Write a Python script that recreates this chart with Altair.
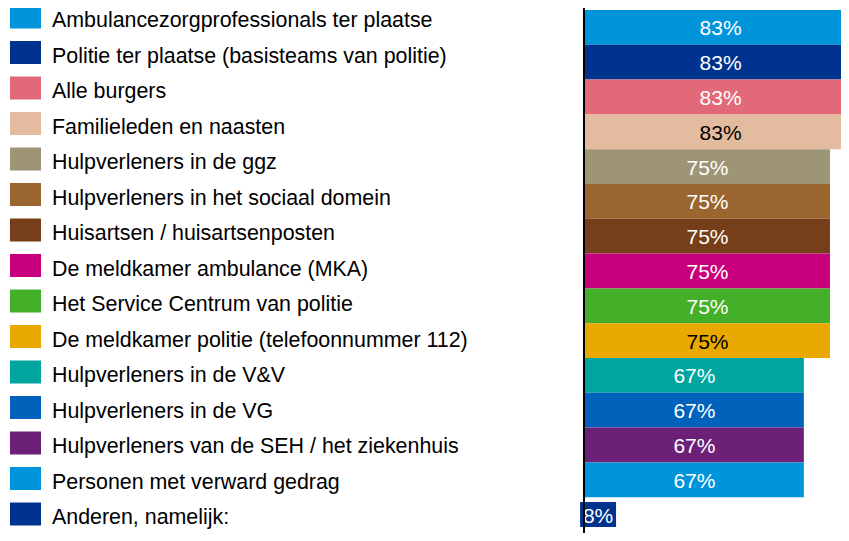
import altair as alt
import pandas as pd

categories = [
    "Ambulancezorgprofessionals ter plaatse",
    "Politie ter plaatse (basisteams van politie)",
    "Alle burgers",
    "Familieleden en naasten",
    "Hulpverleners in de ggz",
    "Hulpverleners in het sociaal domein",
    "Huisartsen / huisartsenposten",
    "De meldkamer ambulance (MKA)",
    "Het Service Centrum van politie",
    "De meldkamer politie (telefoonnummer 112)",
    "Hulpverleners in de V&V",
    "Hulpverleners in de VG",
    "Hulpverleners van de SEH / het ziekenhuis",
    "Personen met verward gedrag",
    "Anderen, namelijk:",
]
values = [83, 83, 83, 83, 75, 75, 75, 75, 75, 75, 67, 67, 67, 67, 8]
colors = [
    "#0095DA", "#00338D", "#E26978", "#E3BC9F", "#9E9476",
    "#9B6530", "#763F1A", "#C8007D", "#44B02A", "#EAA900",
    "#00A59F", "#0062BB", "#6C2077", "#0095DA", "#00338D",
]
label_colors = [
    "#FFFFFF", "#FFFFFF", "#FFFFFF", "#000000", "#FFFFFF",
    "#FFFFFF", "#FFFFFF", "#FFFFFF", "#FFFFFF", "#000000",
    "#FFFFFF", "#FFFFFF", "#FFFFFF", "#FFFFFF", "#FFFFFF",
]

df = pd.DataFrame({
    "cat": categories,
    "value": values,
    "lab": [f"{v}%" for v in values],
    "lc": label_colors,
})

FONT = "Liberation Sans"
rect_sym = "M-1,-1L1,-1L1,0.484L-1,0.484Z"
box_sym = "M-1,-0.694L1,-0.694L1,0.694L-1,0.694Z"

xscale = alt.Scale(domain=[0, 78.37], nice=False, zero=True)
yscale = alt.Scale(domain=categories, range=[2, 524], paddingInner=0, paddingOuter=0)
cscale = alt.Scale(domain=categories, range=colors)

legend = alt.Legend(
    orient="none", legendX=-575, legendY=-2.5, title=None,
    symbolType=rect_sym, symbolSize=961, symbolStrokeWidth=0, symbolOpacity=1,
    labelFont=FONT, labelFontSize=21.4, labelColor="#000000", labelLimit=700,
    rowPadding=9.5, labelOffset=11, padding=0, symbolOffset=0, direction="vertical",
)

base = alt.Chart(df).transform_calculate(mid="datum.value / 2")

bars = base.transform_filter("datum.value >= 10").mark_bar().encode(
    x=alt.X("value:Q", scale=xscale, axis=None),
    y=alt.Y("cat:N", sort=categories, scale=yscale, axis=None),
    color=alt.Color("cat:N", scale=cscale, legend=legend),
)

box = base.transform_filter("datum.value < 10").mark_point(
    shape=box_sym, size=1296, filled=True, opacity=1
).encode(
    x=alt.X("mid:Q", scale=xscale, axis=None),
    y=alt.Y("cat:N", sort=categories, scale=yscale, axis=None),
    color=alt.Color("cat:N", scale=cscale, legend=legend),
)

texts = base.mark_text(font=FONT, fontSize=21, dy=2).encode(
    x=alt.X("mid:Q", scale=xscale, axis=None),
    y=alt.Y("cat:N", sort=categories, scale=yscale, axis=None),
    text="lab:N",
    color=alt.Color("lc:N", scale=None),
)

axis_line = alt.Chart(df).mark_rule(color="#000000", strokeWidth=2, xOffset=-1).encode(
    x=alt.datum(0),
    y=alt.value(0),
    y2=alt.value(525),
)

chart = alt.layer(bars, box, texts, axis_line).properties(
    width=256, height=525,
    padding={"left": 577, "top": 0, "right": 0, "bottom": 0},
    autosize=alt.AutoSizeParams(type="none"),
    background="#FFFFFF",
).configure_view(stroke=None)

chart.save("out.html", embed_options={"renderer": "svg", "actions": False})
